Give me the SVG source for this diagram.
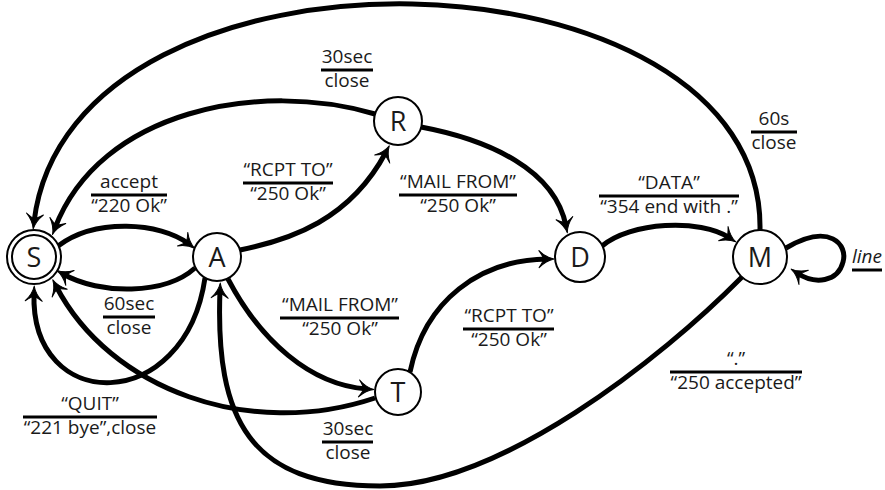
<svg xmlns="http://www.w3.org/2000/svg" width="885" height="490" viewBox="0 0 885 490">
<defs>
<marker id="arr" markerUnits="userSpaceOnUse" viewBox="-12 -12 24 24" markerWidth="24" markerHeight="24" refX="0" refY="0" orient="auto" overflow="visible">
<path d="M7,0 Q-1,1.5 -8,8.5 Q-3.5,2 -3.5,0 Q-3.5,-2 -8,-8.5 Q-1,-1.5 7,0 Z" fill="#000" stroke="#000" stroke-width="1" stroke-linejoin="round"/>
</marker>
</defs>
<style>
.e{fill:none;stroke:#000;stroke-width:5;marker-end:url(#arr)}
.n{fill:#fff;stroke:#000;stroke-width:2}
.nt{font-family:"Open Sans",sans-serif;font-size:27px;fill:#1a1a1a;text-anchor:middle}
.t{font-family:"Open Sans",sans-serif;font-size:19px;fill:#1a1a1a;text-anchor:middle}
.fl{stroke:#000;stroke-width:3}
</style>
<g id="connectors">
<path class="e" d="M760,230 C765,-60 70,-80 34,222"/>
<path class="e" d="M375,114 C260,80 100,110 55,228"/>
<path class="e" d="M58,246 C95,218 160,222 189,244"/>
<path class="e" d="M195,268 C165,295 100,295 63,274"/>
<path class="e" d="M205,278 C185,415 30,415 34,293"/>
<path class="e" d="M375,398 C250,440 110,390 56,286"/>
<path class="e" d="M240,250 C290,240 350,220 386,152"/>
<path class="e" d="M421,127 C490,140 555,170 566,226"/>
<path class="e" d="M228,279 C260,340 310,385 367,389"/>
<path class="e" d="M410,372 C425,300 480,260 547,259"/>
<path class="e" d="M602,246 C630,222 700,218 730,238"/>
<path class="e" d="M786,248 C830,222 848,245 843,262 C838,282 815,285 797,273"/>
<path class="e" d="M742,277 C660,360 500,486 380,486 C250,486 215,420 220,290"/>
</g>
<g id="labels">
<text class="t" x="347" y="63">30sec</text><line class="fl" x1="321" y1="70" x2="373" y2="70"/><text class="t" x="347" y="87">close</text>
<text class="t" x="129" y="188">accept</text><line class="fl" x1="91" y1="195" x2="167" y2="195"/><text class="t" x="129" y="212">“220 Ok”</text>
<text class="t" x="129" y="310">60sec</text><line class="fl" x1="103" y1="317" x2="155" y2="317"/><text class="t" x="129" y="334">close</text>
<text class="t" x="90" y="410">“QUIT”</text><line class="fl" x1="23" y1="417" x2="157" y2="417"/><text class="t" x="90" y="434">“221 bye”,close</text>
<text class="t" x="288" y="176">“RCPT TO”</text><line class="fl" x1="243" y1="183" x2="333" y2="183"/><text class="t" x="288" y="200">“250 Ok”</text>
<text class="t" x="458" y="188">“MAIL FROM”</text><line class="fl" x1="399" y1="195" x2="517" y2="195"/><text class="t" x="458" y="212">“250 Ok”</text>
<text class="t" x="340" y="311">“MAIL FROM”</text><line class="fl" x1="280" y1="318" x2="399" y2="318"/><text class="t" x="340" y="335">“250 Ok”</text>
<text class="t" x="509" y="322">“RCPT TO”</text><line class="fl" x1="463" y1="329" x2="554" y2="329"/><text class="t" x="509" y="346">“250 Ok”</text>
<text class="t" x="348" y="435">30sec</text><line class="fl" x1="322" y1="442" x2="373" y2="442"/><text class="t" x="348" y="459">close</text>
<text class="t" x="669" y="189">“DATA”</text><line class="fl" x1="599" y1="196" x2="739" y2="196"/><text class="t" x="669" y="213">“354 end with .”</text>
<text class="t" x="774" y="125">60s</text><line class="fl" x1="751" y1="132" x2="797" y2="132"/><text class="t" x="774" y="149">close</text>
<text class="t" x="736" y="365">“.”</text><line class="fl" x1="670" y1="372" x2="802" y2="372"/><text class="t" x="736" y="389">“250 accepted”</text>
<text class="t" x="867" y="263" font-style="italic">line</text><line class="fl" x1="852" y1="270" x2="882" y2="270"/>
</g>
<g id="S"><circle class="n" cx="34" cy="257" r="27"/><circle class="n" cx="34" cy="257" r="22"/><text class="nt" x="34" y="267">S</text></g>
<g id="A"><circle class="n" cx="217" cy="257" r="24"/><text class="nt" x="217" y="267">A</text></g>
<g id="R"><circle class="n" cx="398" cy="121" r="24"/><text class="nt" x="398" y="131">R</text></g>
<g id="T"><circle class="n" cx="398" cy="392" r="23"/><text class="nt" x="398" y="402">T</text></g>
<g id="D"><circle class="n" cx="580" cy="257" r="25"/><text class="nt" x="580" y="267">D</text></g>
<g id="M"><circle class="n" cx="760" cy="257" r="27"/><text class="nt" x="760" y="267">M</text></g>
</svg>
